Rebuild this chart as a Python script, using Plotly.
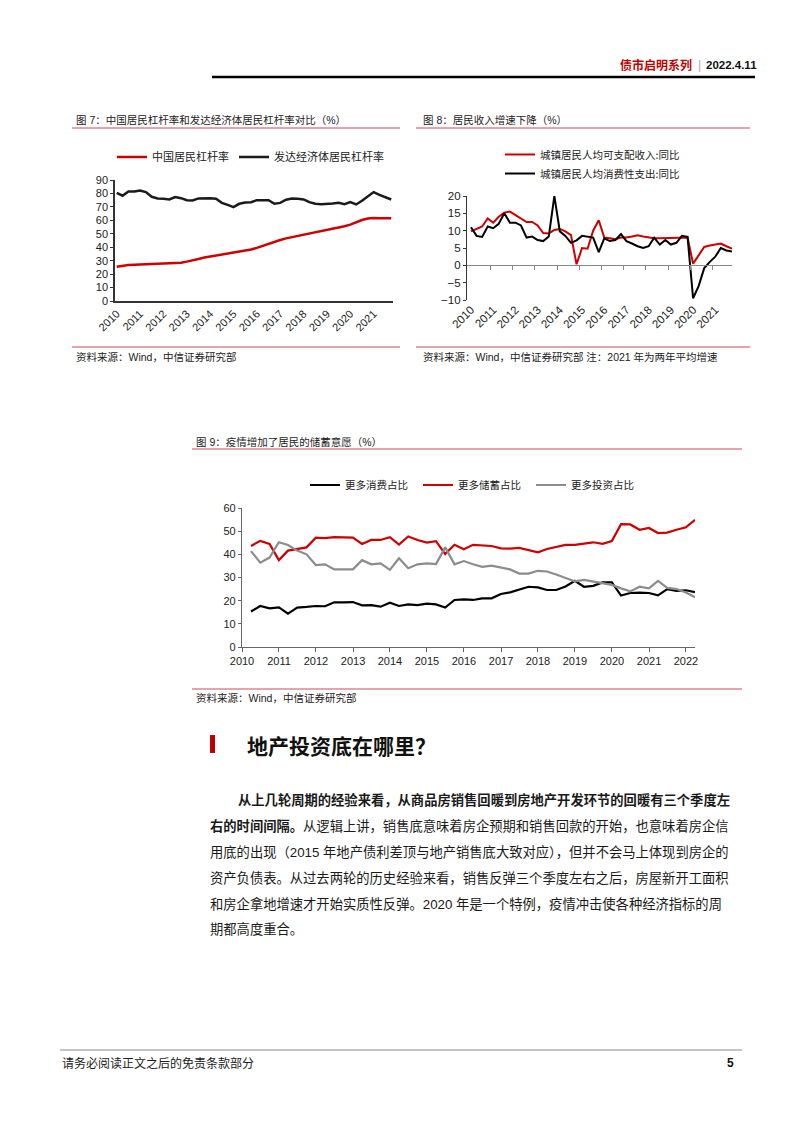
import plotly.graph_objects as go

W, H = 802, 1133

def px(x):
    return x / W

def py(y):
    return 1 - y / H

# ---------------- data ----------------
# Figure 7: quarterly 2010Q1 - 2021Q4
q_dates_1 = [f"{y}-{md}" for y in range(2010, 2022) for md in ("03-31", "06-30", "09-30", "12-31")]
china_lev = [25.5, 26.3, 26.8, 27.0, 27.2, 27.3, 27.6, 27.8, 27.8, 27.8,
             28.2, 28.5, 29.3, 30.0, 31.2, 32.3, 33.0, 33.7, 34.4, 35.2,
             35.8, 36.4, 37.3, 38.3, 39.5, 41.0, 42.8, 44.0, 45.4, 46.6,
             47.5, 48.3, 49.0, 49.8, 50.8, 51.6, 52.6, 53.6, 54.7, 55.6,
             56.8, 58.5, 60.2, 61.3, 61.8, 61.5, 61.3, 61.5]
dev_lev = [80.5, 78.3, 81.5, 81.5, 82.2, 81.0, 77.5, 76.3, 76.0, 75.5,
           77.3, 76.5, 75.0, 74.8, 76.3, 76.5, 76.5, 76.0, 73.0, 71.5,
           69.8, 72.3, 73.3, 73.5, 75.0, 75.0, 75.0, 72.3, 73.0, 75.3,
           76.2, 76.0, 75.5, 73.5, 72.3, 72.0, 72.0, 72.5, 73.0, 72.0,
           73.5, 71.8, 74.5, 77.5, 81.0, 79.0, 77.0, 75.5]
years_1 = list(range(2010, 2022))

# Figure 8: quarterly 2010Q1 - 2021Q4
q_dates_2 = q_dates_1
income_yoy = [9.8, 10.5, 11.2, 13.5, 12.3, 14.0, 15.2, 15.5, 14.5, 13.5,
              12.5, 12.5, 11.5, 9.3, 9.2, 10.2, 10.5, 9.8, 8.7, 0.3,
              5.0, 4.8, 10.0, 13.0, 8.0, 7.8, 7.5, 8.0, 8.0, 8.3,
              8.7, 8.3, 8.0, 7.8, 7.8, 7.8, 8.0, 8.0, 8.0, 8.0,
              0.5, 2.8, 5.3, 5.7, 6.0, 6.3, 5.5, 4.8]
consume_yoy = [11.0, 8.5, 8.2, 11.2, 10.7, 12.0, 15.0, 12.3, 12.3, 11.5,
               8.0, 8.3, 7.3, 7.0, 8.3, 20.0, 9.8, 8.5, 6.5, 7.2,
               8.5, 8.2, 8.0, 3.8, 7.8, 7.0, 7.3, 9.0, 7.0, 6.3,
               5.5, 5.0, 5.5, 8.0, 6.0, 7.3, 6.0, 6.5, 8.5, 8.2,
               -9.5, -6.0, -0.8, 1.0, 2.5, 5.0, 4.3, 4.0]
years_2 = list(range(2010, 2022))

# Figure 9: quarterly 2010Q1 - 2022Q1
q_dates_3 = q_dates_1 + ["2022-03-31"]
more_consume = [15.3, 17.7, 16.7, 17.1, 14.4, 17.0, 17.3, 17.7, 17.6, 19.3,
                19.3, 19.4, 18.0, 18.1, 17.4, 19.1, 17.7, 18.4, 18.1, 18.7,
                18.4, 17.0, 20.3, 20.6, 20.3, 21.0, 21.0, 22.9, 23.6, 24.9,
                26.0, 25.7, 24.6, 24.6, 26.1, 28.6, 26.0, 26.4, 27.9, 27.9,
                22.2, 23.3, 23.5, 23.3, 22.3, 25.0, 24.2, 24.5, 23.7]
more_save = [43.6, 45.8, 44.5, 37.5, 41.6, 42.2, 43.0, 47.2, 47.0, 47.4,
             47.4, 47.2, 44.5, 46.2, 46.2, 47.4, 44.2, 47.7, 46.2, 45.1,
             45.7, 40.1, 44.1, 42.2, 44.1, 43.9, 43.6, 42.6, 42.5, 42.8,
             41.9, 40.9, 42.3, 43.3, 44.1, 44.1, 44.8, 45.2, 44.5, 45.7,
             53.0, 52.9, 50.6, 51.4, 49.2, 49.4, 50.6, 51.7, 54.9]
more_invest = [41.4, 36.4, 38.6, 45.2, 44.0, 41.6, 40.0, 35.4, 35.7, 33.5,
               33.5, 33.5, 37.5, 35.7, 36.1, 33.3, 38.3, 34.0, 35.7, 36.1,
               35.8, 43.0, 35.7, 37.1, 35.7, 34.6, 35.1, 34.2, 33.5, 31.7,
               31.7, 32.9, 32.6, 31.3, 29.8, 28.3, 29.0, 28.3, 27.8, 26.8,
               25.3, 24.0, 26.0, 25.3, 28.5, 25.5, 25.0, 23.5, 21.5]
years_3 = list(range(2010, 2023))

# ---------------- styles ----------------
RED = "#cc0000"
BLACK = "#000000"
GRAY = "#8c8c8c"
PINK = "#d98791"
FONT = "Liberation Sans, Noto Sans CJK SC, sans-serif"
CJK = "Noto Sans CJK SC, sans-serif"

fig = go.Figure()

# Figure 7 traces
fig.add_trace(go.Scatter(x=q_dates_1, y=china_lev, mode="lines", name="中国居民杠杆率",
                         line=dict(color=RED, width=2.5), xaxis="x", yaxis="y", legend="legend"))
fig.add_trace(go.Scatter(x=q_dates_1, y=dev_lev, mode="lines", name="发达经济体居民杠杆率",
                         line=dict(color="#1a1a1a", width=2.5), xaxis="x", yaxis="y", legend="legend"))

# Figure 8 traces
fig.add_trace(go.Scatter(x=q_dates_2, y=income_yoy, mode="lines", name="城镇居民人均可支配收入:同比",
                         line=dict(color=RED, width=2), xaxis="x2", yaxis="y2", legend="legend2"))
fig.add_trace(go.Scatter(x=q_dates_2, y=consume_yoy, mode="lines", name="城镇居民人均消费性支出:同比",
                         line=dict(color=BLACK, width=2), xaxis="x4", yaxis="y2", legend="legend2"))

# Figure 9 traces
fig.add_trace(go.Scatter(x=q_dates_3, y=more_consume, mode="lines", name="更多消费占比",
                         line=dict(color=BLACK, width=2.2), xaxis="x3", yaxis="y3", legend="legend3"))
fig.add_trace(go.Scatter(x=q_dates_3, y=more_save, mode="lines", name="更多储蓄占比",
                         line=dict(color=RED, width=2.2), xaxis="x3", yaxis="y3", legend="legend3"))
fig.add_trace(go.Scatter(x=q_dates_3, y=more_invest, mode="lines", name="更多投资占比",
                         line=dict(color=GRAY, width=2.2), xaxis="x3", yaxis="y3", legend="legend3"))

tickfont = dict(family=FONT, size=11, color="#222")

# zero line position for figure 8
y2_top, y2_bot = 196, 300
zero_py = y2_bot - (0 - (-10)) / 30 * (y2_bot - y2_top)

fig.update_layout(
    width=W, height=H, autosize=False,
    margin=dict(l=0, r=0, t=0, b=0, pad=0, autoexpand=False),
    paper_bgcolor="white", plot_bgcolor="white",
    font=dict(family=FONT, color="#222"),
    showlegend=True,
    # ---- Figure 7 axes
    xaxis=dict(domain=[px(115), px(393)], anchor="y", type="date",
               range=["2010-03-04", "2022-01-28"],
               tickvals=[f"{y}-03-31" for y in years_1], ticktext=[str(y) for y in years_1],
               tickangle=-45, tickfont=tickfont, showgrid=False, zeroline=False,
               showline=True, linecolor="#333", linewidth=2, ticks=""),
    yaxis=dict(domain=[py(301), py(180)], anchor="x", range=[0, 90], dtick=10,
               tickfont=tickfont, showgrid=False, zeroline=False,
               showline=True, linecolor="#333", linewidth=1.5, ticks="outside",
               ticklen=3, tickcolor="#333"),
    # ---- Figure 8 axes (labels at bottom)
    xaxis2=dict(domain=[px(467), px(732)], anchor="y2", type="date",
                range=["2010-01-24", "2021-12-31"],
                tickvals=[f"{y}-03-31" for y in years_2], ticktext=[str(y) for y in years_2],
                tickangle=-45, tickfont=dict(family=FONT, size=11.5, color="#222"),
                showgrid=False, zeroline=False, showline=False, ticks=""),
    xaxis4=dict(overlaying="x2", anchor="free", position=py(zero_py), type="date",
                range=["2010-01-24", "2021-12-31"],
                tickvals=[f"{y}-02-14" for y in years_2[1:]],
                showticklabels=False, showgrid=False, zeroline=False,
                showline=True, linecolor="#888", linewidth=1,
                ticks="outside", ticklen=4, tickcolor="#888"),
    yaxis2=dict(domain=[py(y2_bot), py(y2_top)], anchor="x2", range=[-10, 20], dtick=5,
                tickfont=dict(family=FONT, size=11.5, color="#222"), showgrid=False, zeroline=False,
                showline=True, linecolor="#333", linewidth=1.2, ticks="outside",
                ticklen=3, tickcolor="#333"),
    # ---- Figure 9 axes
    xaxis3=dict(domain=[px(242), px(695)], anchor="y3", type="date",
                range=["2010-01-01", "2022-03-31"],
                tickvals=[f"{y}-01-01" for y in years_3], ticktext=[str(y) for y in years_3],
                tickangle=0, tickfont=dict(family=FONT, size=11, color="#222"),
                showgrid=False, zeroline=False, showline=True, linecolor="#666",
                linewidth=1.2, ticks="outside", ticklen=4, tickcolor="#666"),
    yaxis3=dict(domain=[py(647), py(508)], anchor="x3", range=[0, 60], dtick=10,
                tickfont=dict(family=FONT, size=11, color="#222"), showgrid=False, zeroline=False,
                showline=True, linecolor="#666", linewidth=1.2, ticks="outside",
                ticklen=3, tickcolor="#666"),
    legend=dict(orientation="h", x=px(112), y=py(157), xanchor="left", yanchor="middle",
                font=dict(family=CJK, size=11, color="#222"), bgcolor="rgba(0,0,0,0)",
                itemclick=False),
    legend2=dict(orientation="v", x=px(500), y=py(164), xanchor="left", yanchor="middle",
                 font=dict(family=CJK, size=10.5, color="#222"), bgcolor="rgba(0,0,0,0)",
                 itemclick=False),
    legend3=dict(orientation="h", x=px(305), y=py(485), xanchor="left", yanchor="middle",
                 font=dict(family=CJK, size=10.5, color="#222"), bgcolor="rgba(0,0,0,0)",
                 itemclick=False, entrywidth=68),
)

ann = []

def text(x, y, s, size=10.5, color="#222", anchor="left", family=CJK):
    ann.append(dict(x=px(x), y=py(y), xref="paper", yref="paper", text=s, showarrow=False,
                    xanchor=anchor, yanchor="middle",
                    font=dict(family=family, size=size, color=color)))

# header
text(694, 65, "<b>债市启明系列</b>", size=12, color="#c00000", anchor="right")
text(699, 65, "|", size=12, color="#aaa", anchor="center", family=FONT)
text(704, 65, "<b>2022.4.11</b>", size=11.5, color="#111", family=FONT)

# chart titles and sources
text(74, 120, "图 7：中国居民杠杆率和发达经济体居民杠杆率对比（%）", family=FONT)
text(421, 120, "图 8：居民收入增速下降（%）", family=FONT)
text(74, 357, "资料来源：Wind，中信证券研究部", family=FONT)
text(421, 357, "资料来源：Wind，中信证券研究部 注：2021 年为两年平均增速", family=FONT)
text(194, 442, "图 9：疫情增加了居民的储蓄意愿（%）", family=FONT)
text(194, 698, "资料来源：Wind，中信证券研究部", family=FONT)

# section heading
text(245, 745, "<b>地产投资底在哪里？</b>", size=21, color="#111")

# body paragraph
body = [
    (236, 800, "<b>从上几轮周期的经验来看，从商品房销售回暖到房地产开发环节的回暖有三个季度左</b>"),
    (208, 826, "<b>右的时间间隔。</b>从逻辑上讲，销售底意味着房企预期和销售回款的开始，也意味着房企信"),
    (208, 852, "用底的出现（2015 年地产债利差顶与地产销售底大致对应），但并不会马上体现到房企的"),
    (208, 878, "资产负债表。从过去两轮的历史经验来看，销售反弹三个季度左右之后，房屋新开工面积"),
    (208, 904, "和房企拿地增速才开始实质性反弹。2020 年是一个特例，疫情冲击使各种经济指标的周"),
    (208, 929, "期都高度重合。"),
]
for bx, by, s in body:
    text(bx, by, s, size=13.3, color="#1a1a1a", family=FONT)

# footer
text(60, 1063, "请务必阅读正文之后的免责条款部分", size=12, color="#222", family=FONT)
text(736, 1063, "<b>5</b>", size=12, color="#111", anchor="right", family=FONT)

shapes = []

def hline(x0, x1, y, color, width):
    shapes.append(dict(type="line", xref="paper", yref="paper", x0=px(x0), x1=px(x1),
                       y0=py(y), y1=py(y), line=dict(color=color, width=width)))

hline(212, 755, 77, "#000", 2.5)
hline(72, 400, 128, PINK, 1.3)
hline(416, 750, 128, PINK, 1.3)
hline(72, 400, 347, PINK, 1.3)
hline(416, 750, 347, PINK, 1.3)
hline(192, 742, 449, PINK, 1.3)
hline(192, 742, 689, PINK, 1.3)
hline(60, 742, 1050, "#b0b0b0", 1.5)
shapes.append(dict(type="rect", xref="paper", yref="paper", x0=px(210), x1=px(215),
                   y0=py(753), y1=py(735), fillcolor="#c00000", line=dict(width=0)))

fig.update_layout(annotations=ann, shapes=shapes)

fig.write_html("out.html")
